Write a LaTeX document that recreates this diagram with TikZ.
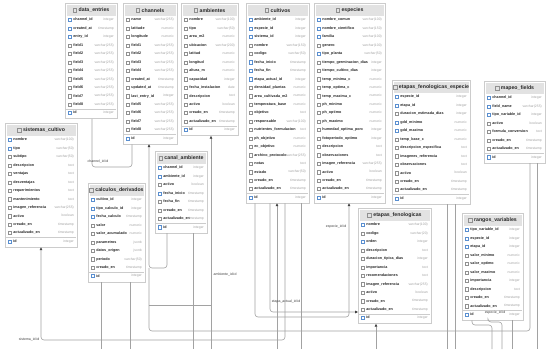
\documentclass[tikz,border=0pt]{standalone}
\usepackage{fontspec}
\setmainfont{Liberation Sans}
\usetikzlibrary{arrows.meta}
\definecolor{bordc}{HTML}{CCCCCC}
\definecolor{hdrc}{HTML}{E2E2E2}
\definecolor{namec}{HTML}{262626}
\definecolor{typec}{HTML}{A3A3A3}
\definecolor{icn}{HTML}{909090}
\definecolor{ick}{HTML}{5A8FD0}
\definecolor{linec}{HTML}{A2A2A2}
\definecolor{arrc}{HTML}{404040}
\tikzset{
 tblbox/.style={draw=bordc, fill=white, line width=0.45pt, inner sep=0pt, anchor=north west},
 hdrbox/.style={fill=hdrc, inner sep=0pt, anchor=north west, minimum height=11pt},
 hdrtext/.style={font=\bfseries\fontsize{5.2}{6}\selectfont, text=namec, inner sep=0pt},
 fname/.style={font=\bfseries\fontsize{3.7}{4.5}\selectfont, text=namec, inner sep=0pt, anchor=west, text height=2.7pt, text depth=0.8pt},
 ftype/.style={font=\fontsize{3.4}{4.5}\selectfont, text=typec, inner sep=0pt, anchor=east, text height=2.5pt, text depth=0.8pt},
 iconn/.style={draw=icn, line width=0.3pt, minimum size=3.2pt, inner sep=0pt},
 iconk/.style={draw=ick, line width=0.4pt, minimum size=3.2pt, inner sep=0pt},
 conn/.style={draw=linec, line width=0.6pt, rounded corners=3pt},
 fkarrow/.style={-{Triangle[length=2.8pt,width=2.6pt,color=arrc]}},
 lbl/.style={font=\fontsize{3.5}{4}\selectfont, text=arrc, inner sep=0.5pt}
}
% #1 id, #2 title, #3 left x, #4 top y, #5 width, #6 rows, #7 list
\newcommand\ertbl[7]{%
 \node[tblbox, minimum width=#5pt, minimum height={22.5pt+(#6-1)*8.45pt}] (#1) at (#3,#4) {};
 \node[hdrbox, minimum width={#5pt-3pt}] (#1-hb) at (#3+1.5,#4+1.5) {};
 \node[hdrtext] (#1-ht) at ([xshift=2.8pt]#1-hb.center) {#2};
 \node[iconn, minimum size=3.6pt, anchor=east] (#1-hi) at ([xshift=-1.8pt]#1-ht.west) {};
 \foreach \f/\t/\k [count=\i] in {#7} {
   \node[icon\k] (#1-\i-i) at (#3+5, {#4+17+(\i-1)*8.45}) {};
   \node[fname] (#1-\i) at (#3+8.2, {#4+17+(\i-1)*8.45}) {\f};
   \node[ftype] (#1-\i-t) at (#3+#5-3, {#4+17+(\i-1)*8.45}) {\t};
 }
 \draw[bordc, line width=0.3pt] (#3+1, {#4+17+(#6-1)*8.45-4.2}) -- (#3+#5-1, {#4+17+(#6-1)*8.45-4.2});
}
\begin{document}
\begin{tikzpicture}[x=1pt,y=-1pt]
\fill[white] (0,0) rectangle (550,349);
\useasboundingbox (0,0) rectangle (550,349);

\ertbl{data_entries}{data\_entries}{65}{3}{52}{12}{channel\_id/integer/k, created\_at/timestamp/k, entry\_id/integer/k, field1/varchar(255)/n, field2/varchar(255)/n, field3/varchar(255)/n, field4/varchar(255)/n, field5/varchar(255)/n, field6/varchar(255)/n, field7/varchar(255)/n, field8/varchar(255)/n, id/integer/k}

\ertbl{channels}{channels}{123}{3}{54}{15}{name/varchar(255)/n, latitude/numeric/n, longitude/numeric/n, field1/varchar(255)/n, field2/varchar(255)/n, field3/varchar(255)/n, field4/varchar(255)/n, created\_at/timestamp/n, updated\_at/timestamp/n, last\_entry\_id/integer/n, field5/varchar(255)/n, field6/varchar(255)/n, field7/varchar(255)/n, field8/varchar(255)/n, id/integer/k}

\ertbl{ambientes}{ambientes}{181}{3}{57}{14}{nombre/varchar(100)/n, tipo/varchar(50)/n, area\_m2/numeric/n, ubicacion/varchar(200)/n, latitud/numeric/n, longitud/numeric/n, altura\_m/numeric/n, capacidad/integer/n, fecha\_instalacion/date/n, descripcion/text/n, activo/boolean/n, creado\_en/timestamp/n, actualizado\_en/timestamp/n, id/integer/k}

\ertbl{cultivos}{cultivos}{246}{3}{63}{22}{ambiente\_id/integer/k, especie\_id/integer/k, sistema\_id/integer/k, nombre/varchar(150)/n, codigo/varchar(50)/n, fecha\_inicio/timestamp/k, fecha\_fin/timestamp/k, etapa\_actual\_id/integer/k, densidad\_plantas/numeric/n, area\_cultivada\_m2/numeric/n, temperatura\_base/numeric/n, objetivo/text/n, responsable/varchar(100)/n, nutrientes\_formulacion/text/n, ph\_objetivo/numeric/n, ec\_objetivo/numeric/n, archivo\_protocolo/varchar(255)/n, notas/text/n, estado/varchar(50)/n, creado\_en/timestamp/n, actualizado\_en/timestamp/n, id/integer/k}

\ertbl{especies}{especies}{314}{3}{71}{22}{nombre\_comun/varchar(100)/k, nombre\_cientifico/varchar(150)/k, familia/varchar(100)/k, genero/varchar(100)/n, tipo\_planta/varchar(50)/k, tiempo\_germinacion\_dias/integer/n, tiempo\_cultivo\_dias/integer/n, temp\_minima\_c/numeric/n, temp\_optima\_c/numeric/n, temp\_maxima\_c/numeric/n, ph\_minimo/numeric/n, ph\_optimo/numeric/n, ph\_maximo/numeric/n, humedad\_optima\_porc/integer/n, fotoperiodo\_optimo/integer/n, descripcion/text/n, observaciones/text/n, imagen\_referencia/varchar(255)/n, activo/boolean/n, creado\_en/timestamp/n, actualizado\_en/timestamp/n, id/integer/k}

\ertbl{etapas_fenologicas_especie}{etapas\_fenologicas\_especie}{392}{80}{78}{13}{especie\_id/integer/k, etapa\_id/integer/k, duracion\_estimada\_dias/integer/n, gdd\_minimo/numeric/k, gdd\_maximo/numeric/k, temp\_base\_c/numeric/n, descripcion\_especifica/text/n, imagenes\_referencia/text/n, observaciones/text/n, activo/boolean/n, creado\_en/timestamp/n, actualizado\_en/timestamp/n, id/integer/k}

\ertbl{mapeo_fields}{mapeo\_fields}{484}{81}{61}{8}{channel\_id/integer/k, field\_name/varchar(255)/k, tipo\_variable\_id/integer/k, activo/boolean/n, formula\_conversion/text/n, creado\_en/timestamp/n, actualizado\_en/timestamp/n, id/integer/k}

\ertbl{sistemas_cultivo}{sistemas\_cultivo}{5}{123}{72}{13}{nombre/varchar(100)/k, tipo/varchar(50)/k, subtipo/varchar(50)/n, descripcion/text/n, ventajas/text/n, desventajas/text/n, requerimientos/text/n, mantenimiento/text/n, imagen\_referencia/varchar(255)/n, activo/boolean/n, creado\_en/timestamp/n, actualizado\_en/timestamp/n, id/integer/k}

\ertbl{calculos_derivados}{calculos\_derivados}{88}{183}{57}{10}{cultivo\_id/integer/k, tipo\_calculo\_id/integer/k, fecha\_calculo/timestamp/k, valor/numeric/n, valor\_acumulado/numeric/n, parametros/jsonb/n, datos\_origen/jsonb/n, periodo/varchar(50)/n, creado\_en/timestamp/n, id/integer/k}

\ertbl{canal_ambiente}{canal\_ambiente}{155}{151}{52}{8}{channel\_id/integer/k, ambiente\_id/integer/k, activo/boolean/n, fecha\_inicio/timestamp/k, fecha\_fin/timestamp/n, creado\_en/timestamp/n, actualizado\_en/timestamp/n, id/integer/k}

\ertbl{etapas_fenologicas}{etapas\_fenologicas}{358}{208}{73}{12}{nombre/varchar(100)/k, codigo/varchar(20)/n, orden/integer/k, descripcion/text/n, duracion\_tipica\_dias/integer/n, importancia/text/n, recomendaciones/text/n, imagen\_referencia/varchar(255)/n, activo/boolean/n, creado\_en/timestamp/n, actualizado\_en/timestamp/n, id/integer/k}

\ertbl{rangos_variables}{rangos\_variables}{462}{213}{61}{11}{tipo\_variable\_id/integer/k, especie\_id/integer/k, etapa\_id/integer/k, valor\_minimo/numeric/n, valor\_optimo/numeric/n, valor\_maximo/numeric/n, importancia/integer/n, descripcion/text/n, creado\_en/timestamp/n, actualizado\_en/timestamp/n, id/integer/k}

% junction / free-end coordinates
\coordinate (j1) at (149,268);
\coordinate (j2) at (149,305);
\coordinate (bA) at (211,349);
\coordinate (bB) at (193,349);
\coordinate (bC) at (101,349);
\coordinate (bD) at (130,349);
\coordinate (bE) at (277,349);
\coordinate (bF) at (301,349);
\coordinate (bG) at (376,349);
\coordinate (bH) at (447,349);
\coordinate (bI) at (455,349);
\coordinate (bJ) at (492,349);
\coordinate (bK) at (502,349);
\coordinate (bL) at (512,349);
\coordinate (bM) at (537,349);

% connectors
\draw[conn] (data_entries.south -| 92,0) -- (92,167) -- (132,167) -- (channels.south -| 132,0);
\draw[conn,fkarrow] (canal_ambiente.south -| 167,0) -- (167,268) -- (149,268) -- (channels.south -| 149,0);
\draw[conn] (mapeo_fields.south -| 530,0) -- (530,331) -- (149,331) -- (j1);
\draw[conn] (j2) -- (211,305);
\draw[conn,fkarrow] (bA) -- (ambientes.south -| 211,0);
\draw[conn] (canal_ambiente.south -| 193,0) -- (bB);
\draw[conn] (calculos_derivados.south -| 101,0) -- (bC);
\draw[conn] (calculos_derivados.south -| 130,0) -- (bD);
\draw[conn,fkarrow] (cultivos.south -| 285,0) -- (285,340) -- (41,340) -- (sistemas_cultivo.south -| 41,0);
\draw[conn,fkarrow] (cultivos.south -| 255,0) -- (255,317) -- (349,317) -- (especies.south -| 349,0);
\draw[conn,fkarrow] (cultivos.south -| 270,0) -- (270,312) -- (etapas_fenologicas.west |- 0,312);
\draw[conn,fkarrow] (bE) -- (cultivos.south -| 277,0);
\draw[conn] (cultivos.south -| 301,0) -- (bF);
\draw[conn,fkarrow] (bG) -- (etapas_fenologicas.south -| 376,0);
\draw[conn] (etapas_fenologicas_especie.south -| 447,0) -- (bH);
\draw[conn] (etapas_fenologicas_especie.south -| 455,0) -- (bI);
\draw[conn] (rangos_variables.south -| 472,0) -- (472,325) -- (492,325) -- (bJ);
\draw[conn] (rangos_variables.south -| 488,0) -- (488,322) -- (502,322) -- (bK);
\draw[conn] (rangos_variables.south -| 512,0) -- (bL);
\draw[conn] (mapeo_fields.south -| 537,0) -- (bM);

% labels
\node[lbl] (l1) at (98,162) {channel\_id:id};
\node[lbl, anchor=east] (l2) at (40,339.5) {sistema\_id:id};
\node[lbl, anchor=west] (l3) at (213,275) {ambiente\_id:id};
\node[lbl, anchor=east] (l4) at (347,227) {especie\_id:id};
\node[lbl] (l5) at (286,302) {etapa\_actual\_id:id};
\node[lbl] (l6) at (495,312.5) {especie\_id:id};
\end{tikzpicture}
\end{document}
